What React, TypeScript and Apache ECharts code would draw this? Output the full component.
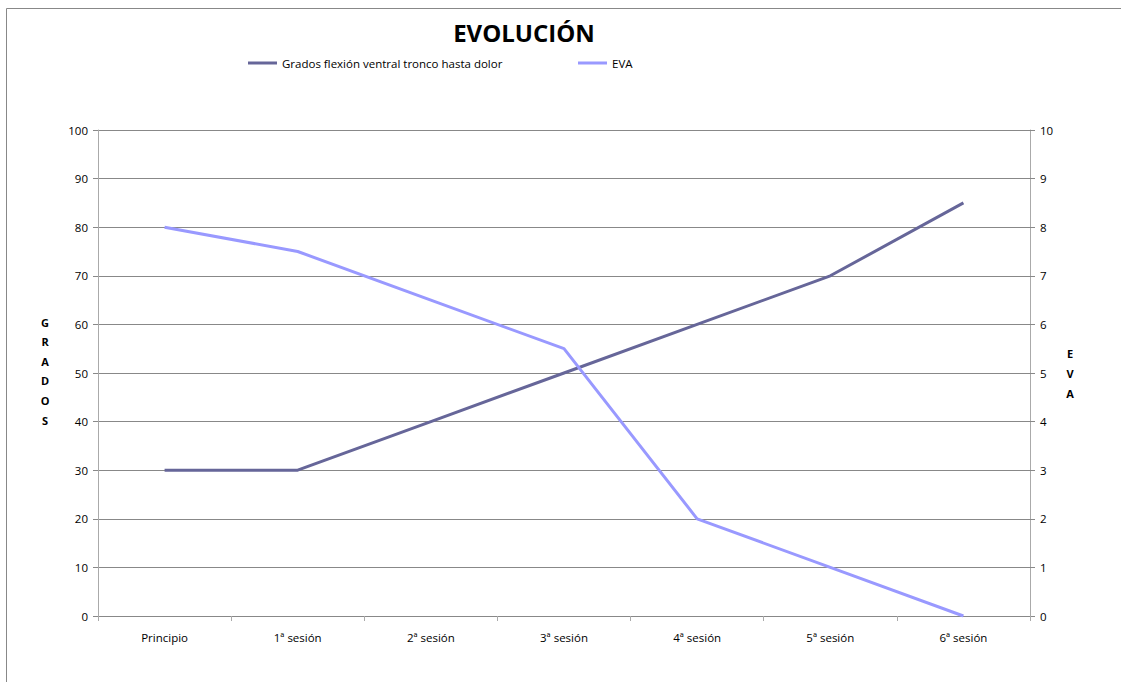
import React, { useEffect, useRef } from "react";
import * as echarts from "echarts";

const categories = ["Principio", "1ª sesión", "2ª sesión", "3ª sesión", "4ª sesión", "5ª sesión", "6ª sesión"];
const gradosValues = [30, 30, 40, 50, 60, 70, 85];
const evaValues = [8, 7.5, 6.5, 5.5, 2, 1, 0];
const gradosName = "Grados flexión ventral tronco hasta dolor";
const evaName = "EVA";

export default function App() {
  const ref = useRef<HTMLDivElement>(null);
  useEffect(() => {
    document.body.style.margin = "0";
    const chart = echarts.init(ref.current!, null, { renderer: "svg" });
    const font = "'Open Sans', 'Liberation Sans', sans-serif";
    const legendBase = {
      top: 52,
      itemWidth: 29,
      itemHeight: 3,
      itemGap: 10,
      icon: "rect",
      textStyle: { fontSize: 11.5, color: "#000", fontFamily: font },
    };
    chart.setOption({
      animation: false,
      backgroundColor: "#ffffff",
      textStyle: { fontFamily: font },
      title: {
        text: "EVOLUCIÓN",
        left: 519,
        textAlign: "center",
        top: 15,
        textStyle: { fontSize: 24, fontWeight: "bold", color: "#000", fontFamily: font },
      },
      legend: [
        { ...legendBase, left: 243, data: [gradosName] },
        { ...legendBase, left: 573, data: [evaName] },
      ],
      grid: { left: 98, right: 91, top: 130, bottom: 66 },
      xAxis: {
        type: "category",
        data: categories,
        boundaryGap: true,
        axisLine: { lineStyle: { color: "#888888", width: 1 } },
        axisTick: { show: true, length: 5, lineStyle: { color: "#aaaaaa" } },
        axisLabel: { fontSize: 11.5, color: "#000", margin: 15, fontFamily: font },
      },
      yAxis: [
        {
          type: "value",
          min: 0,
          max: 100,
          interval: 10,
          position: "left",
          axisLine: { show: true, lineStyle: { color: "#aaaaaa", width: 1 } },
          axisTick: { show: true, length: 5, lineStyle: { color: "#888888" } },
          axisLabel: { fontSize: 11.5, color: "#000", margin: 10, fontFamily: font },
          splitLine: { show: true, lineStyle: { color: "#888888", width: 1 } },
        },
        {
          type: "value",
          min: 0,
          max: 10,
          interval: 1,
          position: "right",
          axisLine: { show: true, lineStyle: { color: "#aaaaaa", width: 1 } },
          axisTick: { show: true, length: 5, lineStyle: { color: "#888888" } },
          axisLabel: { fontSize: 11.5, color: "#000", margin: 10, fontFamily: font },
          splitLine: { show: false },
        },
      ],
      series: [
        {
          name: gradosName,
          type: "line",
          data: gradosValues,
          yAxisIndex: 0,
          symbol: "none",
          lineStyle: { color: "#666699", width: 3 },
          itemStyle: { color: "#666699" },
        },
        {
          name: evaName,
          type: "line",
          data: evaValues,
          yAxisIndex: 1,
          symbol: "none",
          lineStyle: { color: "#9999ff", width: 3 },
          itemStyle: { color: "#9999ff" },
        },
      ],
      graphic: [
        {
          type: "rect",
          shape: { x: 6.5, y: 8.5, width: 1300, height: 900 },
          style: { fill: "none", stroke: "#888888", lineWidth: 1 },
          silent: true,
        },
        {
          type: "text",
          x: 45,
          y: 371,
          style: {
            text: "G\nR\nA\nD\nO\nS",
            fontSize: 11,
            fontWeight: "bold",
            fontFamily: font,
            lineHeight: 19.6,
            fill: "#000",
            align: "center",
            verticalAlign: "middle",
          },
        },
        {
          type: "text",
          x: 1070,
          y: 373,
          style: {
            text: "E\nV\nA",
            fontSize: 11,
            fontWeight: "bold",
            fontFamily: font,
            lineHeight: 20,
            fill: "#000",
            align: "center",
            verticalAlign: "middle",
          },
        },
      ],
    });
    return () => chart.dispose();
  }, []);
  return <div ref={ref} style={{ width: 1121, height: 682 }} />;
}
